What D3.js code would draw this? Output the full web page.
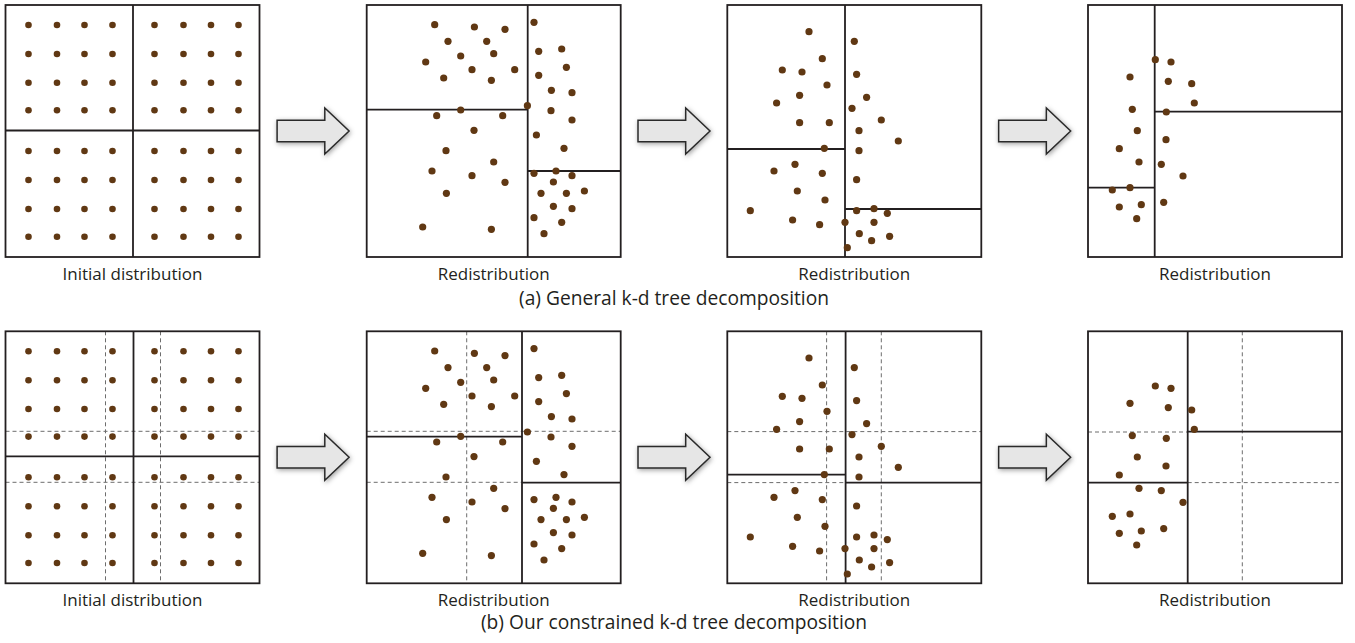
<!DOCTYPE html>
<html>
<head>
<meta charset="utf-8">
<script src="https://cdn.jsdelivr.net/npm/d3@7"></script>
<style>
  html, body { margin: 0; padding: 0; background: #fff; }
  svg { display: block; }
  text { font-family: "Open Sans", "Noto Sans", sans-serif; fill: #231f20; }
</style>
</head>
<body>
<svg id="fig" width="1355" height="643"></svg>
<script>
// Panel-local units: each panel is a 254 x 252 square.
const PANEL_W = 254, PANEL_H = 252;

// Initial lattice (8 x 8 points)
const initialX = [23, 51.5, 79, 107, 149, 178, 205.5, 233];
const initialY = [20, 49, 77.7, 105.3, 146, 175, 204, 231.7];

// Points after the first redistribution
const pass1 = [
  [68, 19.7], [107.7, 22], [138.3, 24.3], [167.3, 17.3],
  [81.3, 36.3], [120, 36.3],
  [94, 51], [127, 48.7], [172, 46.3], [195, 44],
  [59, 57], [105.3, 64.7], [148, 64.7], [199.7, 62.3],
  [77, 73], [124.7, 75.3], [172, 70.3],
  [184.7, 85.3], [205.3, 87.7],
  [160.7, 100.7], [94, 105], [70, 110.7], [136, 110.7], [184.3, 105.7],
  [107.3, 125.3], [205.3, 115],
  [169.7, 130],
  [79.3, 145.7], [197.3, 143.3],
  [127, 157],
  [65.3, 166], [105.3, 170.7], [138.3, 177.3],
  [167.3, 168.3], [189.3, 166], [205.3, 170.7], [186.7, 177],
  [79.7, 188.3], [174.3, 188.3], [199.7, 188.3], [217.7, 186],
  [186.7, 201.3], [205.3, 203.7],
  [167.3, 212.7], [195, 217.3],
  [56, 222], [124.7, 224.3],
  [177.3, 228.7]
];

// Points after the second redistribution
const pass2 = [
  [81.7, 26.7], [127, 36.3], [95, 53.7], [55, 65], [74.7, 67],
  [129.3, 69.3], [99.7, 80], [72.3, 90.3], [139.3, 92.3], [49.3, 98],
  [124.7, 103.3], [72.3, 117.7], [102, 117.7], [154, 115], [131.7, 125.7],
  [171, 136], [97, 143.3], [131.7, 145.7], [67.7, 159.3], [46.7, 166],
  [95, 168.3], [129.3, 174.7], [70, 186], [97.7, 195], [23, 205.7],
  [129.3, 205.7], [146.7, 203.7], [160, 208.3], [65.3, 215], [92.3, 219.7],
  [117.7, 217.3], [146.7, 217.3], [132, 228.7], [144.3, 235.7], [162.3, 231.3],
  [120, 242.7]
];

// Points after the third redistribution
const pass3 = [
  [67.3, 54.7], [83, 57], [42, 72], [80.3, 76.3], [103.7, 78.7],
  [106.3, 98], [44.3, 104.3], [78.3, 107], [49.3, 125.7], [31.3, 143.7],
  [78, 134.7], [51, 157], [73.3, 159.3], [95, 171], [24.3, 185],
  [42, 182.7], [75.7, 197.3], [31.3, 202], [53.3, 199.7], [48.7, 213.7]
];

// Split lines [x1, y1, x2, y2] for the general k-d tree (row a)
const generalSplits = [
  [[127.5, 0, 127.5, 252], [0, 125.5, 254, 125.5]],
  [[161, 0, 161, 252], [0, 104.7, 161, 104.7], [161, 166, 254, 166]],
  [[117.7, 0, 117.7, 252], [0, 144, 117.7, 144], [117.7, 204, 254, 204]],
  [[66.7, 0, 66.7, 252], [66.7, 106.7, 254, 106.7], [0, 182.7, 66.7, 182.7]]
];

// Split lines for the constrained k-d tree (row b)
const constrainedSplits = [
  [[128, 0, 128, 252], [0, 125, 254, 125]],
  [[155.3, 0, 155.3, 252], [0, 105.3, 155.3, 105.3], [155.3, 151.3, 254, 151.3]],
  [[118.3, 0, 118.3, 252], [0, 143.3, 118.3, 143.3], [118.3, 151.3, 254, 151.3]],
  [[99.7, 0, 99.7, 252], [99.7, 100.3, 254, 100.3], [0, 151.3, 99.7, 151.3]]
];

// Allowed split positions shown as dashed guides in row b
const constrainedGuides = [
  [[100, 0, 100, 252], [155, 0, 155, 252], [0, 100, 254, 100], [0, 151, 254, 151]],
  [[100, 0, 100, 252], [0, 100, 254, 100], [0, 151, 155.3, 151]],
  [[99.3, 0, 99.3, 252], [154, 0, 154, 252], [0, 100.3, 254, 100.3], [0, 151.3, 118.3, 151.3]],
  [[154.3, 0, 154.3, 252], [0, 100.7, 99.7, 100.7], [99.7, 151.3, 254, 151.3]]
];

const panelLabels = ["Initial distribution", "Redistribution", "Redistribution", "Redistribution"];
const rowCaptions = ["(a) General k-d tree decomposition", "(b) Our constrained k-d tree decomposition"];

// Layout
const panelLeft = [5.5, 366.7, 727.3, 1088];
const rowTop = [5, 331.3];
const labelBaseline = [280, 605.5];
const captionBaseline = [305, 629];
const captionX = 674;

const DOT = "#603813";
const INK = "#231f20";

const initialPts = [];
initialY.forEach(y => initialX.forEach(x => initialPts.push([x, y])));
const pointSets = [initialPts, pass1, pass2, pass3];

const svg = d3.select("#fig");

// Soft shadow behind the arrows
const defs = svg.append("defs");
const f = defs.append("filter").attr("id", "arrowShadow")
  .attr("x", "-30%").attr("y", "-40%").attr("width", "160%").attr("height", "180%");
f.append("feDropShadow").attr("dx", 1).attr("dy", 1.5)
  .attr("stdDeviation", 2.6).attr("flood-color", "#000").attr("flood-opacity", 0.38);

// Arrow outline in its own local units
const arrowShape = [[0, -10.7], [47.7, -10.7], [47.7, -23], [72, 0], [47.7, 23], [47.7, 10.7], [0, 10.7]];

[generalSplits, constrainedSplits].forEach((splitsRow, r) => {
  const top = rowTop[r];
  for (let p = 0; p < 4; p++) {
    const x = d3.scaleLinear().domain([0, PANEL_W]).range([panelLeft[p], panelLeft[p] + PANEL_W]);
    const y = d3.scaleLinear().domain([0, PANEL_H]).range([top, top + PANEL_H]);
    const g = svg.append("g");

    g.append("rect")
      .attr("x", x(0)).attr("y", y(0))
      .attr("width", x(PANEL_W) - x(0)).attr("height", y(PANEL_H) - y(0))
      .attr("fill", "#fff");

    if (r === 1) {
      g.selectAll("line.guide").data(constrainedGuides[p]).join("line")
        .attr("class", "guide")
        .attr("x1", d => x(d[0])).attr("y1", d => y(d[1]))
        .attr("x2", d => x(d[2])).attr("y2", d => y(d[3]))
        .attr("stroke", "#6d6d6d").attr("stroke-width", 1)
        .attr("stroke-dasharray", "4,3");
    }

    g.selectAll("line.split").data(splitsRow[p]).join("line")
      .attr("class", "split")
      .attr("x1", d => x(d[0])).attr("y1", d => y(d[1]))
      .attr("x2", d => x(d[2])).attr("y2", d => y(d[3]))
      .attr("stroke", INK).attr("stroke-width", 1.8);

    g.selectAll("circle").data(pointSets[p]).join("circle")
      .attr("cx", d => x(d[0])).attr("cy", d => y(d[1]))
      .attr("r", p === 0 ? 3.3 : 3.6)
      .attr("fill", DOT);

    g.append("rect")
      .attr("x", x(0)).attr("y", y(0))
      .attr("width", x(PANEL_W) - x(0)).attr("height", y(PANEL_H) - y(0))
      .attr("fill", "none").attr("stroke", INK).attr("stroke-width", 1.8);

    g.append("text")
      .attr("x", (x(0) + x(PANEL_W)) / 2).attr("y", labelBaseline[r])
      .attr("text-anchor", "middle").attr("font-size", 17)
      .text(panelLabels[p]);

    if (p < 3) {
      const gapL = x(PANEL_W), gapR = panelLeft[p + 1];
      const ax = d3.scaleLinear().domain([0, 72]).range([(gapL + gapR) / 2 - 36, (gapL + gapR) / 2 + 36]);
      const ay = d3.scaleLinear().domain([-23, 23]).range([y(PANEL_H / 2) - 23, y(PANEL_H / 2) + 23]);
      svg.append("polygon")
        .attr("points", arrowShape.map(d => [ax(d[0]), ay(d[1])].join(",")).join(" "))
        .attr("fill", "#e6e6e6").attr("stroke", "#2b2b2b").attr("stroke-width", 1.5)
        .attr("stroke-linejoin", "miter")
        .attr("filter", "url(#arrowShadow)");
    }
  }

  svg.append("text")
    .attr("x", captionX).attr("y", captionBaseline[r])
    .attr("text-anchor", "middle").attr("font-size", 19.2)
    .text(rowCaptions[r]);
});
</script>
</body>
</html>
